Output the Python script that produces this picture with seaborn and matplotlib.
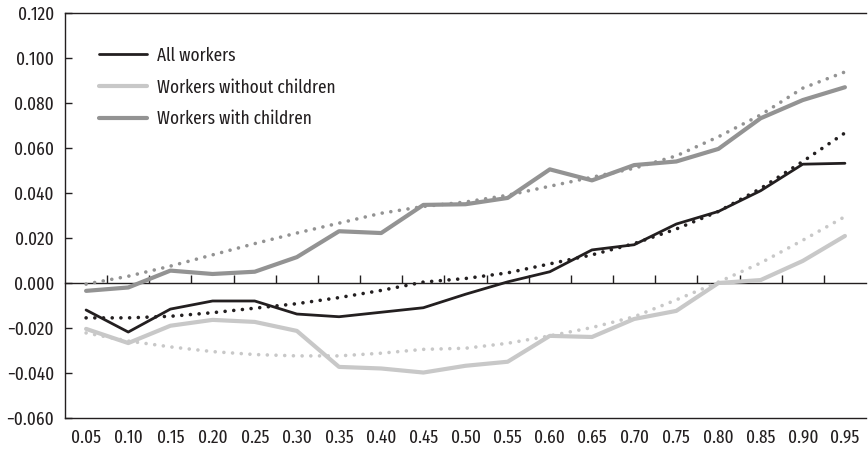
import numpy as np
import pandas as pd
import matplotlib
matplotlib.use("Agg")
import matplotlib.pyplot as plt
import seaborn as sns
from matplotlib.ticker import FuncFormatter

# quantiles on the x axis
quantiles = [0.05, 0.10, 0.15, 0.20, 0.25, 0.30, 0.35, 0.40, 0.45, 0.50,
             0.55, 0.60, 0.65, 0.70, 0.75, 0.80, 0.85, 0.90, 0.95]

# solid series
all_workers = [-0.0120, -0.0218, -0.0116, -0.0080, -0.0080, -0.0138, -0.0150,
               -0.0130, -0.0110, -0.0050, 0.0005, 0.0050, 0.0147, 0.0170,
               0.0262, 0.0318, 0.0410, 0.0528, 0.0532]
without_children = [-0.0204, -0.0267, -0.0190, -0.0164, -0.0173, -0.0213, -0.0373,
                    -0.0380, -0.0398, -0.0368, -0.0350, -0.0235, -0.0240, -0.0160,
                    -0.0124, 0.0000, 0.0013, 0.0098, 0.0209]
with_children = [-0.0035, -0.0020, 0.0055, 0.0040, 0.0050, 0.0115, 0.0230,
                 0.0222, 0.0347, 0.0350, 0.0378, 0.0505, 0.0456, 0.0524,
                 0.0540, 0.0596, 0.0732, 0.0813, 0.0870]

# dotted trend lines
all_workers_trend = [-0.0155, -0.0155, -0.0148, -0.0132, -0.0112, -0.0092, -0.0065,
                     -0.0033, 0.0004, 0.0020, 0.0045, 0.0085, 0.0125, 0.0175,
                     0.0240, 0.0318, 0.0420, 0.0540, 0.0667]
without_children_trend = [-0.0222, -0.0258, -0.0284, -0.0305, -0.0318, -0.0324, -0.0324,
                          -0.0312, -0.0295, -0.0290, -0.0268, -0.0235, -0.0198, -0.0150,
                          -0.0075, 0.0004, 0.0089, 0.0190, 0.0295]
with_children_trend = [-0.0005, 0.0030, 0.0075, 0.0125, 0.0175, 0.0222, 0.0266,
                       0.0310, 0.0340, 0.0360, 0.0390, 0.0430, 0.0470, 0.0510,
                       0.0565, 0.0650, 0.0747, 0.0866, 0.0938]

labels = ["All workers", "Workers without children", "Workers with children"]
colors = ["#231f20", "#c8c8c8", "#939393"]
widths = [2.0, 3.0, 3.0]

solid = [all_workers, without_children, with_children]
trend = [all_workers_trend, without_children_trend, with_children_trend]

rows = []
for lab, s, t in zip(labels, solid, trend):
    for q, v, tv in zip(quantiles, s, t):
        rows.append({"quantile": q, "series": lab, "value": v, "trend": tv})
df = pd.DataFrame(rows)

sns.set_theme(style="white")
plt.rcParams["font.family"] = ["Fira Sans Extra Condensed", "Fira Sans Condensed", "DejaVu Sans"]

fig = plt.figure(figsize=(8.68, 4.51), dpi=100)
ax = fig.add_axes([0.0749, 0.0732, 0.9228, 0.898])

# trend lines first, solid lines on top
for lab, col in zip(labels, colors):
    sub = df[df["series"] == lab]
    sns.lineplot(data=sub, x="quantile", y="trend", ax=ax, color=col,
                 linewidth=2.6, linestyle=(0, (0.01, 2.4)), legend=False,
                 solid_capstyle="round", dash_capstyle="round")

for lab, col, lw in zip(labels, colors, widths):
    sub = df[df["series"] == lab]
    sns.lineplot(data=sub, x="quantile", y="value", ax=ax, color=col,
                 linewidth=lw, label=lab)

ax.set_xlim(0.025, 0.975)
ax.set_ylim(-0.060, 0.120)
ax.set_yticks(np.arange(-0.06, 0.1201, 0.02))
ax.yaxis.set_major_formatter(FuncFormatter(lambda v, p: f"{v:.3f}".replace("-", "\u2212")))
ax.set_xticks(quantiles)
ax.set_xticklabels([f"{q:.2f}" for q in quantiles])
ax.set_xlabel("")
ax.set_ylabel("")

ax.tick_params(axis="x", length=0, pad=8, labelsize=13.5, colors="#231f20")
ax.tick_params(axis="y", direction="in", length=5, width=1, pad=8,
               labelsize=13.5, colors="#231f20", left=True)

for side in ["left", "top", "bottom"]:
    ax.spines[side].set_visible(True)
    ax.spines[side].set_color("#231f20")
    ax.spines[side].set_linewidth(1.0)
ax.spines["right"].set_visible(False)

# zero line with category-boundary tick marks
zero_axis = ax.secondary_xaxis(0, transform=ax.transData)
zero_axis.set_xticks([q + 0.025 for q in quantiles[:-1]])
zero_axis.tick_params(direction="in", length=6, width=1, labelbottom=False,
                      colors="#231f20")
zero_axis.spines["bottom"].set_color("#231f20")
zero_axis.spines["bottom"].set_linewidth(1.0)

leg = ax.legend(loc="upper left", bbox_to_anchor=(0.043, 0.917), frameon=False,
                fontsize=13.5, handlelength=2.56, handletextpad=0.53,
                labelspacing=0.75, borderpad=0, borderaxespad=0)
for txt in leg.get_texts():
    txt.set_color("#231f20")

fig.savefig("out.png", dpi=100)
